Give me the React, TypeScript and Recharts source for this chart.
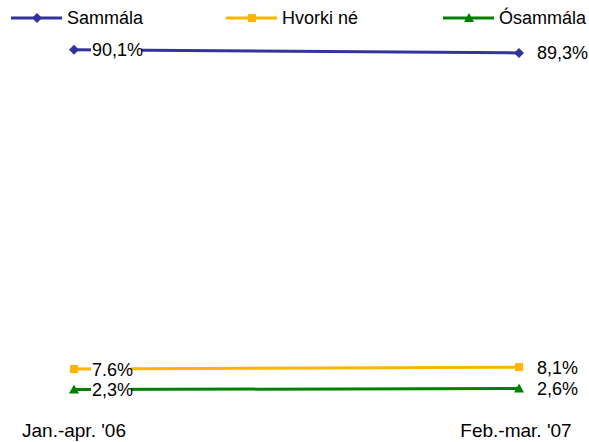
import { LineChart, Line, XAxis, YAxis, Legend, LabelList } from "recharts";

const categories = ["Jan.-apr. '06", "Feb.-mar. '07"];
const sammala = [90.1, 89.3];
const hvorki = [7.6, 8.1];
const osammala = [2.3, 2.6];
const sammalaLabels = ["90,1%", "89,3%"];
const hvorkiLabels = ["7.6%", "8,1%"];
const osammalaLabels = ["2,3%", "2,6%"];

const FONT = "'Liberation Sans', Arial, sans-serif";
const BLUE = "#333399";
const ORANGE = "#FFB400";
const GREEN = "#008000";

const data = categories.map((cat, i) => ({
  cat,
  sammala: sammala[i],
  hvorki: hvorki[i],
  osammala: osammala[i],
}));

const Marker = ({ shape, cx, cy, color }: any) => {
  if (shape === "diamond") {
    return (
      <polygon
        points={`${cx},${cy - 5} ${cx + 5},${cy} ${cx},${cy + 5} ${cx - 5},${cy}`}
        fill={color}
      />
    );
  }
  if (shape === "square") {
    return <rect x={cx - 4} y={cy - 4} width={8} height={8} fill={color} />;
  }
  return (
    <polygon
      points={`${cx},${cy - 5} ${cx + 5},${cy + 4} ${cx - 5},${cy + 4}`}
      fill={color}
    />
  );
};

const makeDot = (shape: string, color: string) => (props: any) =>
  <Marker key={`${shape}-${props.index}`} shape={shape} cx={props.cx} cy={props.cy} color={color} />;

const makeLabel = (labels: string[]) => (props: any) => {
  const { x, y, index } = props;
  const text = labels[index];
  return (
    <g key={`lbl-${index}-${text}`}>
      <rect x={x + 17} y={y - 9} width={text.length * 10} height={18} fill="#fff" />
      <text
        x={x + 18}
        y={y}
        dy="0.36em"
        fontSize={18}
        fontFamily={FONT}
        fill="#000"
      >
        {text}
      </text>
    </g>
  );
};

const legendItems = [
  { name: "Sammála", color: BLUE, shape: "diamond", x: 11 },
  { name: "Hvorki né", color: ORANGE, shape: "square", x: 226 },
  { name: "Ósammála", color: GREEN, shape: "triangle", x: 443 },
];

const renderLegend = () => (
  <div style={{ position: "relative", height: 0 }}>
    <svg
      width={589}
      height={36}
      style={{ position: "absolute", left: 0, top: 0, overflow: "visible" }}
    >
      {legendItems.map((it) => (
        <g key={it.name}>
          <line x1={it.x} y1={18} x2={it.x + 51} y2={18} stroke={it.color} strokeWidth={3} />
          <Marker shape={it.shape} cx={it.x + 26} cy={18} color={it.color} />
          <text
            x={it.x + 56}
            y={18}
            dy="0.36em"
            fontSize={18}
            fontFamily={FONT}
            fill="#000"
          >
            {it.name}
          </text>
        </g>
      ))}
    </svg>
  </div>
);

const renderTick = (props: any) => {
  const { x, payload, index } = props;
  return (
    <text
      x={index === 1 ? x - 3 : x}
      y={430}
      dy="0.36em"
      textAnchor="middle"
      fontSize={19}
      fontFamily={FONT}
      fill="#000"
    >
      {payload.value}
    </text>
  );
};

export default function App() {
  return (
    <div style={{ position: "absolute", left: 0, top: 0, background: "#fff" }}>
      <LineChart
        width={589}
        height={442}
        data={data}
        margin={{ top: 11.5, right: 0, bottom: 0, left: 0 }}
      >
        <XAxis
          dataKey="cat"
          height={43.5}
          axisLine={false}
          tickLine={false}
          interval={0}
          tick={renderTick}
          padding={{ left: 74, right: 70 }}
        />
        <YAxis hide domain={[0, 100]} />
        <Legend
          verticalAlign="top"
          content={renderLegend}
          wrapperStyle={{ position: "absolute", top: 0, left: 0, height: 0, width: 589 }}
        />
        <Line
          dataKey="sammala"
          stroke={BLUE}
          strokeWidth={3}
          dot={makeDot("diamond", BLUE)}
          isAnimationActive={false}
        >
          <LabelList dataKey="sammala" content={makeLabel(sammalaLabels)} />
        </Line>
        <Line
          dataKey="hvorki"
          stroke={ORANGE}
          strokeWidth={3}
          dot={makeDot("square", ORANGE)}
          isAnimationActive={false}
        >
          <LabelList dataKey="hvorki" content={makeLabel(hvorkiLabels)} />
        </Line>
        <Line
          dataKey="osammala"
          stroke={GREEN}
          strokeWidth={3}
          dot={makeDot("triangle", GREEN)}
          isAnimationActive={false}
        >
          <LabelList dataKey="osammala" content={makeLabel(osammalaLabels)} />
        </Line>
      </LineChart>
    </div>
  );
}
